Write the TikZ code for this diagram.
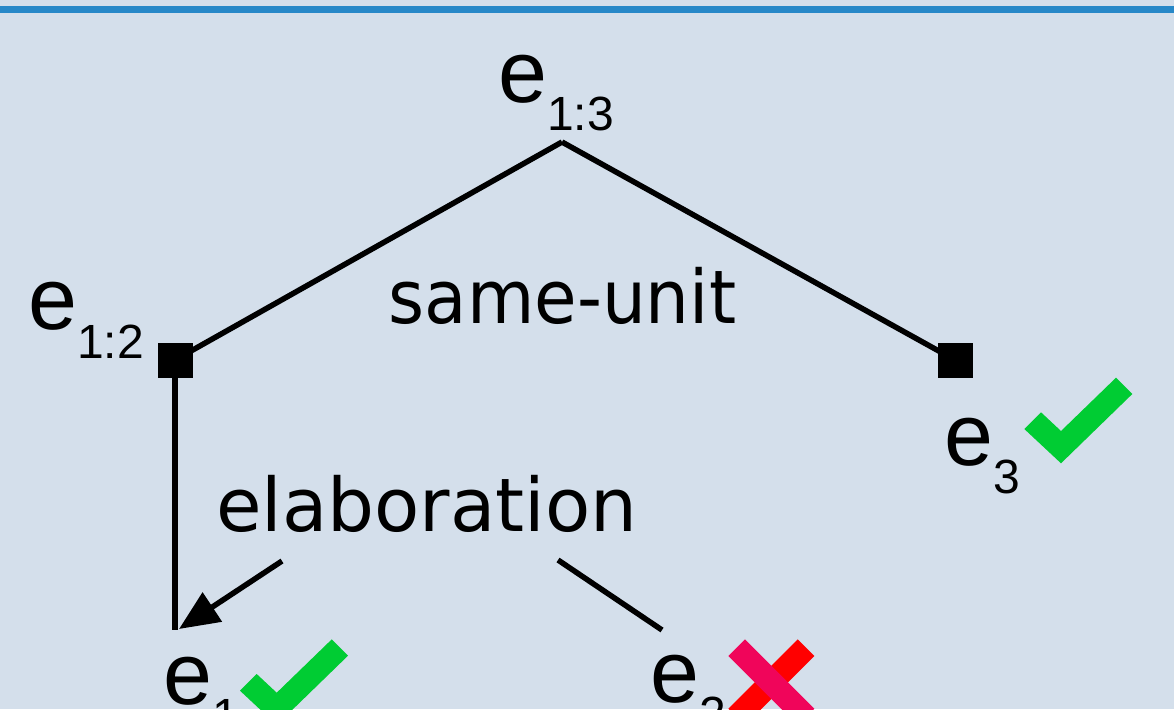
\documentclass[tikz,border=0pt]{standalone}
\usepackage{fontspec}
\setmainfont{Liberation Sans}
\newfontfamily\relfont{DejaVu Sans}
\usetikzlibrary{arrows.meta}
\definecolor{bgpanel}{HTML}{D4DFEB}
\definecolor{topbar}{HTML}{2788C8}
\definecolor{okgreen}{HTML}{00CC33}
\definecolor{xred}{HTML}{FF0000}
\definecolor{xpink}{HTML}{F0055A}
\newcommand{\edu}[1]{{\fontsize{88}{88}\selectfont e}\raisebox{-28.5pt}{\fontsize{48}{48}\selectfont #1}}
\tikzset{
  edge/.style={line width=5.5pt, black},
  span/.style={fill=black, minimum size=35pt, inner sep=0pt},
  elabel/.style={inner sep=0pt, anchor=base west},
  rlabel/.style={inner sep=0pt, anchor=base west, font=\relfont\fontsize{74}{74}\selectfont},
  tick/.style={fill=okgreen},
}
\begin{document}
\begin{tikzpicture}[x=1pt,y=-1pt]
  % panel and top rule
  \fill[bgpanel] (0,0) rectangle (1174,709);
  \useasboundingbox (0,0) rectangle (1174,709);
  \fill[topbar] (0,6) rectangle (1174,13);

  % tree nodes
  \coordinate (root) at (562,142);
  \node[span] (left) at (175,360) {};
  \node[span] (right) at (955,360) {};
  \coordinate (leaf1) at (175,630);

  \draw[edge] (root) -- (left.center);
  \draw[edge] (root) -- (right.center);
  \node[span] at (175,360) {};
  \node[span] at (955,360) {};
  \draw[edge] (left.center) -- (leaf1);

  % relation labels
  \node[rlabel] (su) at (388.5,323.5) {\scalebox{0.935}[1]{same-unit}};
  \node[rlabel] (el) at (216,531.5) {elaboration};

  % elaboration arcs
  \coordinate (arrS) at (282,561);
  \coordinate (arrT) at (179,629);
  \coordinate (satS) at (558,560);
  \coordinate (satT) at (662,630);
  \draw[edge, -{Triangle[length=40pt,width=34pt]}] (arrS) -- (arrT);
  \draw[edge] (satS) -- (satT);

  % unit labels
  \node[elabel] (e13) at (498,102) {\edu{1:3}};
  \node[elabel] (e12) at (28,329.5) {\edu{1:2}};
  \node[elabel] (e3) at (944.7,465.4) {\edu{3}};
  \node[elabel] (e1) at (163.5,704) {\edu{1}};
  \node[elabel] (e2) at (650,702) {\edu{2}};

  % check marks
  \fill[tick] (1024.3,429) -- (1041,412.3) -- (1061,431) -- (1116,377.7) -- (1132.3,394) -- (1061,463.3) -- cycle;
  \begin{scope}[shift={(-784.3,261.7)}]
    \fill[tick] (1024.3,429) -- (1041,412.3) -- (1061,431) -- (1116,377.7) -- (1132.3,394) -- (1061,463.3) -- cycle;
  \end{scope}

  % cross
  \coordinate (xa) at (736.7,647.7);
  \coordinate (xb) at (806,717);
  \coordinate (xc) at (806,647.7);
  \coordinate (xd) at (736.7,717);
  \draw[xred, line width=23.6pt] (xc) -- (xd);
  \draw[xpink, line width=23.6pt] (xa) -- (xb);
\end{tikzpicture}
\end{document}
